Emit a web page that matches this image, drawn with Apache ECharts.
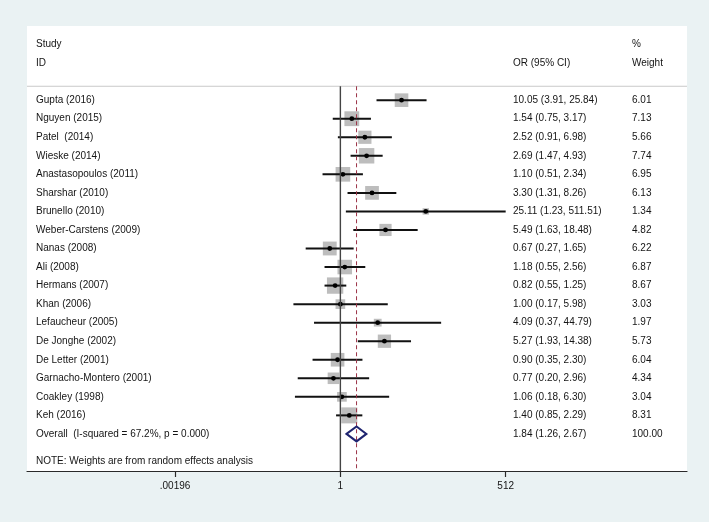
<!DOCTYPE html>
<html>
<head>
<meta charset="utf-8">
<title>Forest plot</title>
<script src="https://cdn.jsdelivr.net/npm/echarts@6/dist/echarts.min.js"></script>
<style>
	html, body { margin: 0; padding: 0; background: #eaf2f3; }
	#forest { width: 709px; height: 522px; }
</style>
</head>
<body>
<div id="forest"></div>
<script>
var studies = [
	'Gupta (2016)', 'Nguyen (2015)', 'Patel  (2014)', 'Wieske (2014)', 'Anastasopoulos (2011)',
	'Sharshar (2010)', 'Brunello (2010)', 'Weber-Carstens (2009)', 'Nanas (2008)', 'Ali (2008)',
	'Hermans (2007)', 'Khan (2006)', 'Lefaucheur (2005)', 'De Jonghe (2002)', 'De Letter (2001)',
	'Garnacho-Montero (2001)', 'Coakley (1998)', 'Keh (2016)'
];
var orValues = [ 10.05, 1.54, 2.52, 2.69, 1.10, 3.30, 25.11, 5.49, 0.67, 1.18, 0.82, 1.00, 4.09, 5.27, 0.90, 0.77, 1.06, 1.40 ];
var ciLow = [ 3.91, 0.75, 0.91, 1.47, 0.51, 1.31, 1.23, 1.63, 0.27, 0.55, 0.55, 0.17, 0.37, 1.93, 0.35, 0.20, 0.18, 0.85 ];
var ciHigh = [ 25.84, 3.17, 6.98, 4.93, 2.34, 8.26, 511.51, 18.48, 1.65, 2.56, 1.25, 5.98, 44.79, 14.38, 2.30, 2.96, 6.30, 2.29 ];
var weights = [ 6.01, 7.13, 5.66, 7.74, 6.95, 6.13, 1.34, 4.82, 6.22, 6.87, 8.67, 3.03, 1.97, 5.73, 6.04, 4.34, 3.04, 8.31 ];

var overallLabel = 'Overall  (I-squared = 67.2%, p = 0.000)';
var overallOR = 1.84;
var overallLow = 1.26;
var overallHigh = 2.67;
var overallWeight = 100.00;

var headerLeft = [ 'Study', 'ID' ];
var headerOR = 'OR (95% CI)';
var headerWeight = [ '%', 'Weight' ];
var noteText = 'NOTE: Weights are from random effects analysis';

var tickValues = [ 1 / 512, 1, 512 ];
var tickLabels = [ '.00196', '1', '512' ];

var font = '10px "Liberation Sans", Arial, sans-serif';
var textColor = '#141414';
var nameX = 36;
var orX = 513;
var weightX = 632;
var boxScale = 5.55;

function fmt( v ) {
	return v.toFixed( 2 );
}

function label( text, x, y ) {
	return {
		type: 'text',
		style: { text: text, x: x, y: y, font: font, fill: textColor, verticalAlign: 'middle' }
	};
}

var studyRows = studies.map( function( s, i ) {
	return [ i, orValues[ i ], ciLow[ i ], ciHigh[ i ], weights[ i ] ];
} );

function renderStudy( params, api ) {
	var i = api.value( 0 );
	var mid = api.coord( [ Math.log2( api.value( 1 ) ), i ] );
	var lo = api.coord( [ Math.log2( api.value( 2 ) ), i ] );
	var hi = api.coord( [ Math.log2( api.value( 3 ) ), i ] );
	var side = boxScale * Math.sqrt( api.value( 4 ) );
	var y = mid[ 1 ];
	return {
		type: 'group',
		children: [
			{
				type: 'rect',
				shape: { x: mid[ 0 ] - side / 2, y: y - side / 2, width: side, height: side },
				style: { fill: '#bdbdbd' }
			},
			{
				type: 'line',
				shape: { x1: lo[ 0 ], y1: y, x2: hi[ 0 ], y2: y },
				style: { stroke: '#111', lineWidth: 2 }
			},
			{
				type: 'circle',
				shape: { cx: mid[ 0 ], cy: y, r: 2.4 },
				style: { fill: '#000' }
			},
			label( studies[ i ], nameX, y ),
			label( fmt( orValues[ i ] ) + ' (' + fmt( ciLow[ i ] ) + ', ' + fmt( ciHigh[ i ] ) + ')', orX, y ),
			label( fmt( weights[ i ] ), weightX, y )
		]
	};
}

function renderFrame( params, api ) {
	var n = studies.length;
	var top = api.coord( [ 0, -0.75 ] );
	var bottom = api.coord( [ 0, 20 ] );
	var nullX = api.coord( [ 0, 0 ] )[ 0 ];
	var effX = api.coord( [ Math.log2( overallOR ), 0 ] )[ 0 ];
	var lo = api.coord( [ Math.log2( overallLow ), n ] );
	var hi = api.coord( [ Math.log2( overallHigh ), n ] );
	var y = lo[ 1 ];
	var h = 7.5;
	var left = params.coordSys.x;
	var right = params.coordSys.x + params.coordSys.width;
	return {
		type: 'group',
		children: [
			label( headerLeft[ 0 ], nameX, api.coord( [ 0, -3 ] )[ 1 ] ),
			label( headerLeft[ 1 ], nameX, api.coord( [ 0, -2 ] )[ 1 ] ),
			label( headerOR, orX, api.coord( [ 0, -2 ] )[ 1 ] ),
			label( headerWeight[ 0 ], weightX, api.coord( [ 0, -3 ] )[ 1 ] ),
			label( headerWeight[ 1 ], weightX, api.coord( [ 0, -2 ] )[ 1 ] ),
			{
				type: 'line',
				shape: { x1: left, y1: top[ 1 ], x2: right, y2: top[ 1 ] },
				style: { stroke: '#c9c9c9', lineWidth: 1 }
			},
			{
				type: 'line',
				z2: 20,
				shape: { x1: nullX, y1: top[ 1 ], x2: nullX, y2: bottom[ 1 ] },
				style: { stroke: '#444', lineWidth: 1.4 }
			},
			{
				type: 'line',
				z2: 20,
				shape: { x1: effX, y1: top[ 1 ], x2: effX, y2: bottom[ 1 ] },
				style: { stroke: '#9b3347', lineWidth: 1, lineDash: [ 4, 3 ] }
			},
			{
				type: 'polygon',
				z2: 30,
				shape: { points: [ [ lo[ 0 ], y ], [ effX, y - h ], [ hi[ 0 ], y ], [ effX, y + h ] ] },
				style: { fill: 'none', stroke: '#1f2470', lineWidth: 2 }
			},
			label( overallLabel, nameX, y ),
			label( fmt( overallOR ) + ' (' + fmt( overallLow ) + ', ' + fmt( overallHigh ) + ')', orX, y ),
			label( fmt( overallWeight ), weightX, y ),
			label( noteText, nameX, api.coord( [ 0, 19.5 ] )[ 1 ] )
		]
	};
}

var chart = echarts.init( document.getElementById( 'forest' ) );

var tickLog = tickValues.map( function( v ) {
	return Math.log2( v );
} );

var option = {
	backgroundColor: '#eaf2f3',
	animation: false,
	grid: {
		left: 27,
		right: 22,
		top: 26,
		bottom: 51,
		show: true,
		backgroundColor: '#ffffff',
		borderWidth: 0
	},
	xAxis: {
		type: 'value',
		min: -17.06,
		max: 18.87,
		splitLine: { show: false },
		axisLine: { onZero: false, lineStyle: { color: '#2a2a2a', width: 1.2 } },
		axisTick: {
			customValues: tickLog,
			length: 6,
			lineStyle: { color: '#2a2a2a', width: 1.2 }
		},
		axisLabel: {
			customValues: tickLog,
			margin: 10,
			color: '#141414',
			fontFamily: '"Liberation Sans", Arial, sans-serif',
			fontSize: 10,
			formatter: function( v ) {
				for ( var k = 0; k < tickLog.length; k++ ) {
					if ( Math.abs( tickLog[ k ] - v ) < 1e-6 ) {
						return tickLabels[ k ];
					}
				}
				return '';
			}
		}
	},
	yAxis: {
		type: 'value',
		inverse: true,
		min: -4,
		max: 20,
		show: false
	},
	series: [
		{
			type: 'custom',
			renderItem: renderFrame,
			data: [ [ 0, 0 ] ],
			z: 3
		},
		{
			type: 'custom',
			renderItem: renderStudy,
			data: studyRows,
			z: 2
		}
	]
};

chart.setOption( option );
</script>
</body>
</html>
